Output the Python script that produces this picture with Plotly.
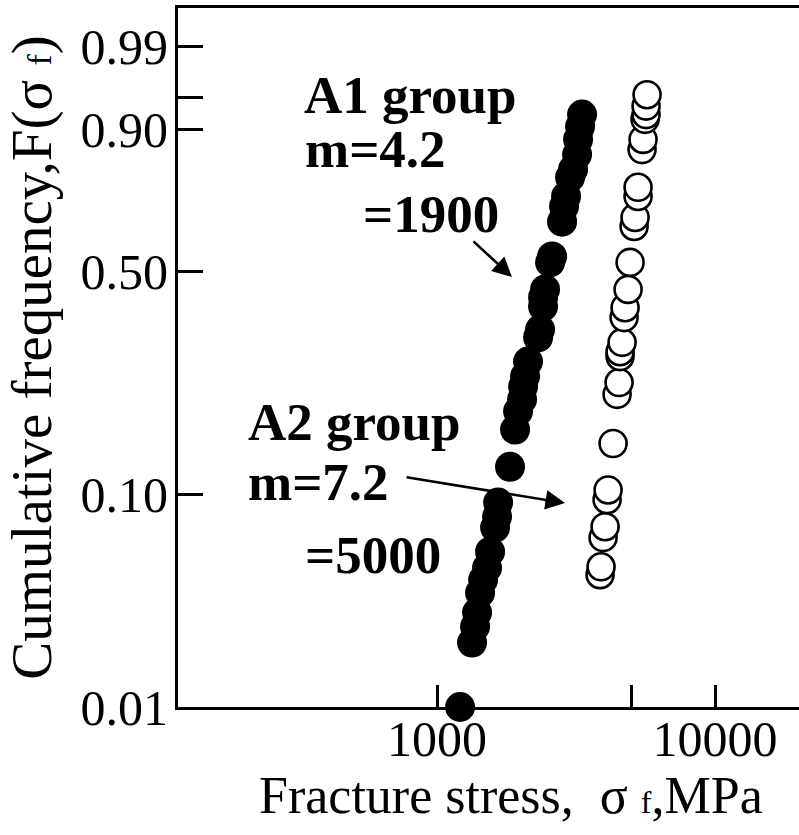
import numpy as np
import plotly.graph_objects as go

# ---- data ----
# A1 group (filled circles): fracture stress [MPa] and cumulative frequency F
a1_stress = [1210, 1336, 1370, 1393, 1428, 1464, 1513, 1551, 1617, 1644,
             1658, 1830, 1908, 1956, 2022, 2039, 2073, 2125, 2309, 2347,
             2406, 2406, 2446, 2550, 2593, 2816, 2863, 2911, 3009, 3085,
             3189, 3216, 3269, 3324]
a1_freq = [0.010, 0.0203, 0.0242, 0.0282, 0.0350, 0.0403, 0.0459, 0.0546, 0.0707, 0.0795,
           0.0922, 0.125, 0.167, 0.192, 0.210, 0.231, 0.249, 0.277, 0.328, 0.346,
           0.403, 0.427, 0.449, 0.527, 0.545, 0.652, 0.699, 0.729, 0.784, 0.806,
           0.844, 0.879, 0.905, 0.926]

# A2 group (open circles)
a2_stress = [3858, 3890, 3955, 4022, 4089, 4123, 4297, 4442, 4516, 4553,
             4553, 4630, 4707, 4746, 4866, 4947, 5114, 5156, 5285, 5285,
             5463, 5508, 5600, 5647, 5647, 5694]
a2_freq = [0.0426, 0.0464, 0.0635, 0.0714, 0.0951, 0.104, 0.150, 0.218, 0.238, 0.287,
           0.297, 0.317, 0.375, 0.400, 0.449, 0.527, 0.637, 0.665, 0.729, 0.756,
           0.856, 0.879, 0.918, 0.926, 0.939, 0.954]

y_tick_freq = [0.01, 0.10, 0.50, 0.90, 0.95, 0.99]
y_tick_text = ["0.01", "0.10", "0.50", "0.90", "", "0.99"]
x_tick_vals = [1000, 5000, 10000]
x_tick_text = ["1000", "", "10000"]

# ---- Weibull probability scale (lower part compressed as in the original) ----
W10 = np.log(-np.log(0.9))
K = 0.7613


def weibull(F):
    F = np.asarray(F, dtype=float)
    w = np.log(-np.log(1.0 - F))
    return np.where(w < W10, W10 + (w - W10) * K, w)


SERIF = "Liberation Serif, Times New Roman, serif"
SUBF = '<span style="font-size:32px">f</span>'
SUBF_Y = '<span style="font-size:34px">f</span>'

fig = go.Figure()
fig.add_trace(go.Scatter(
    x=a1_stress, y=weibull(a1_freq), mode="markers", name="A1 group",
    marker=dict(symbol="circle", size=30, color="black", line=dict(width=0)),
    cliponaxis=False))
fig.add_trace(go.Scatter(
    x=a2_stress, y=weibull(a2_freq), mode="markers", name="A2 group",
    marker=dict(symbol="circle", size=27, color="white",
                line=dict(color="black", width=2.6)),
    cliponaxis=False))

L, R, T, B = 178, 0, 8, 128
PW, PH = 799 - L - R, 835 - T - B


def px(xp):
    return (xp - L) / PW


def py(yp):
    return (835 - B - yp) / PH


labels = [
    ("A1 group", 302, 95),
    ("m=4.2", 303, 149),
    ("=1900", 361, 214),
    ("A2 group", 246, 422),
    ("m=7.2", 246, 482),
    ("=5000", 303, 555),
]
annotations = []
for txt, xp, yp in labels:
    annotations.append(dict(
        text="<b>" + txt + "</b>", xref="paper", yref="paper",
        x=px(xp), y=py(yp), xanchor="left", yanchor="middle",
        showarrow=False, font=dict(family=SERIF, size=53, color="black")))

# arrows: (head x, head y, tail offset ax, ay) in pixels
arrows = [(512, 277, -40, -37), (565, 503, -160, -26)]
for hx, hy, ax, ay in arrows:
    annotations.append(dict(
        text="", xref="paper", yref="paper", x=px(hx), y=py(hy),
        ax=ax, ay=ay, showarrow=True, arrowhead=2, arrowsize=1.5,
        arrowwidth=2.6, arrowcolor="black", standoff=0))

# x-axis title
annotations.append(dict(
    text="Fracture stress,  σ " + SUBF + ",MPa", xref="paper", yref="paper",
    x=px(511), y=py(795), xanchor="center", yanchor="middle", showarrow=False,
    font=dict(family=SERIF, size=52, color="black")))

fig.update_layout(
    width=799, height=835,
    margin=dict(l=L, r=R, t=T, b=B, autoexpand=False),
    paper_bgcolor="white", plot_bgcolor="white",
    showlegend=False,
    annotations=annotations,
    font=dict(family=SERIF, color="black"),
)
fig.update_xaxes(
    type="log", range=[2.068, 4.302], automargin=False,
    tickmode="array", tickvals=x_tick_vals, ticktext=x_tick_text,
    ticks="inside", ticklen=22, tickwidth=3, tickcolor="black",
    showline=True, linewidth=3, linecolor="black", mirror=True,
    showgrid=False, zeroline=False,
    tickfont=dict(family=SERIF, size=50, color="black"),
    ticklabelstandoff=-14,
)
fig.update_yaxes(
    range=[float(weibull(0.01)), 1.856], automargin=False,
    tickmode="array", tickvals=weibull(y_tick_freq).tolist(), ticktext=y_tick_text,
    ticks="inside", ticklen=25, tickwidth=3, tickcolor="black",
    showline=True, linewidth=3, linecolor="black", mirror=False,
    showgrid=False, zeroline=False,
    tickfont=dict(family=SERIF, size=50, color="black"),
    ticklabelstandoff=-3,
    title=dict(text="Cumulative frequency,F(σ " + SUBF_Y + ")",
               font=dict(family=SERIF, size=57, color="black"), standoff=12),
)

fig.write_html("out.html",
               config={"displayModeBar": False},
               post_script="document.body.style.margin='0px';"
                           "document.body.style.overflow='hidden';")
